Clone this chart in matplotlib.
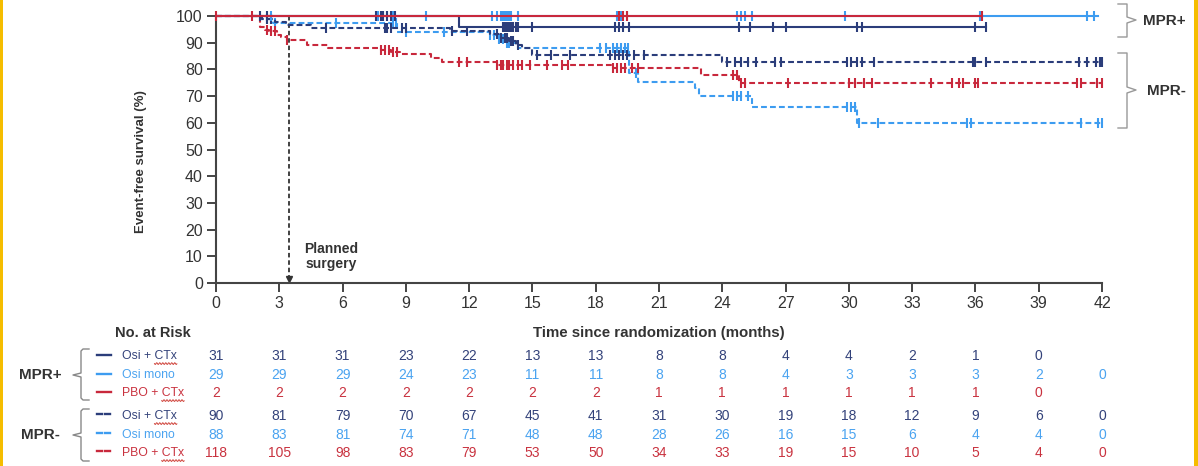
import numpy as np
import matplotlib
matplotlib.use("Agg")
import matplotlib.pyplot as plt
from matplotlib.patches import Rectangle

plt.rcParams['font.family'] = ['Liberation Sans', 'DejaVu Sans']

W, H = 1198, 466
NAVY = "#2b3d7a"
LBLUE = "#3d9cf0"
RED = "#c8283c"
TNAVY = "#33427a"
TLBLUE = "#4aa3f0"
TRED = "#c9323f"
GRAY = "#333333"

# ---------------- data ----------------
x_ticks = list(range(0, 43, 3))
y_ticks = list(range(0, 101, 10))

# MPR+ Osi + CTx (solid navy)
mp_osictx_t = [0, 11.5]
mp_osictx_s = [100, 95.8]
mp_osictx_end = 36.5
mp_osictx_c = [2.1, 2.4, 7.6, 7.8, 7.9, 8.1, 8.3, 8.5, 13.6, 13.7, 13.8, 13.9, 14.0, 14.1, 14.2, 14.3,
               15.0, 18.9, 19.1, 19.3, 19.6, 24.8, 25.3, 26.4, 27.0, 30.4, 30.6, 36.0, 36.5]

# MPR+ Osi mono (solid light blue)
mp_osimono_t = [0]
mp_osimono_s = [100]
mp_osimono_end = 41.8
mp_osimono_c = [2.6, 7.7, 7.9, 8.1, 8.4, 9.95, 13.1, 13.3, 13.5, 13.6, 13.7, 13.8, 13.9, 14.0, 14.3,
                19.0, 19.2, 19.5, 24.7, 24.9, 25.1, 25.4, 29.8, 36.2, 41.3, 41.6]

# MPR+ PBO + CTx (solid red)
mp_pbo_t = [0]
mp_pbo_s = [100]
mp_pbo_end = 36.3
mp_pbo_c = [0.0, 1.7, 19.1, 19.3, 19.5, 36.3]

# MPR- Osi + CTx (dashed navy)
mn_osictx_t = [0, 2.2, 2.8, 3.3, 4.5, 11.1, 13.0, 13.5, 13.9, 14.2, 14.5, 15.0, 24.0]
mn_osictx_s = [100, 98.9, 97.7, 96.6, 95.5, 94.3, 93.1, 91.8, 90.6, 89.3, 88.0, 85.4, 82.7]
mn_osictx_end = 42.0
mn_osictx_c = [2.4, 2.6, 5.2, 8.0, 8.1, 8.3, 8.8, 9.0, 11.2, 11.9, 13.3, 13.5, 13.7, 13.8, 14.0, 14.1,
               14.3, 15.2, 15.9, 16.8, 18.7, 18.9, 19.1, 19.3, 19.5, 19.8, 20.3, 24.2, 24.6, 24.9,
               25.2, 25.6, 26.5, 26.8, 29.9, 30.1, 30.4, 30.6, 31.2, 35.9, 36.0, 36.5, 40.9, 41.3,
               41.7, 41.9, 42.0]

# MPR- Osi mono (dashed light blue)
mn_osimono_t = [0, 2.1, 2.7, 8.6, 13.0, 13.4, 13.8, 14.3, 19.6, 20.0, 22.7, 22.9, 25.4, 30.4]
mn_osimono_s = [100, 98.8, 97.3, 94.1, 92.8, 91.4, 89.8, 88.2, 78.5, 75.4, 72.9, 70.0, 66.0, 59.9]
mn_osimono_end = 42.0
mn_osimono_c = [2.4, 2.6, 2.8, 5.7, 8.4, 8.55, 9.0, 10.8, 13.0, 13.2, 13.4, 13.6, 13.8, 13.9,
                18.2, 18.5, 18.8, 19.0, 19.2, 19.4, 19.55, 19.9, 24.5, 24.7, 24.9, 25.2, 29.9,
                30.1, 30.3, 30.5, 31.4, 35.6, 35.8, 41.0, 41.8, 42.0]

# MPR- PBO + CTx (dashed red)
mn_pbo_t = [0, 2.1, 2.3, 2.5, 2.9, 3.1, 3.35, 4.3, 5.3, 7.8, 8.3, 8.7, 10.2, 10.7, 13.3, 18.8, 23.0, 24.8]
mn_pbo_s = [100, 96.0, 94.8, 94.2, 92.9, 92.3, 91.0, 89.1, 88.1, 87.3, 86.6, 85.6, 84.1, 82.9, 81.6,
            80.4, 77.9, 74.8]
mn_pbo_end = 42.0
mn_pbo_c = [2.4, 2.6, 2.8, 3.35, 7.8, 8.0, 8.2, 8.4, 8.6, 11.5, 11.9, 13.3, 13.5, 13.6, 13.8, 13.9,
            14.1, 14.3, 14.5, 14.9, 15.7, 16.4, 16.7, 18.8, 19.0, 19.2, 19.4, 19.7, 20.0, 24.5,
            24.7, 24.9, 25.1, 27.1, 30.0, 30.3, 30.7, 31.1, 33.9, 34.9, 35.2, 35.4, 36.0, 36.1,
            40.8, 41.0, 41.75, 42.0]

# numbers at risk
risk_labels = ["Osi + CTx", "Osi mono", "PBO + CTx"]
risk_mprp_osictx = [31, 31, 31, 23, 22, 13, 13, 8, 8, 4, 4, 2, 1, 0]
risk_mprp_osimono = [29, 29, 29, 24, 23, 11, 11, 8, 8, 4, 3, 3, 3, 2, 0]
risk_mprp_pbo = [2, 2, 2, 2, 2, 2, 2, 1, 1, 1, 1, 1, 1, 0]
risk_mprn_osictx = [90, 81, 79, 70, 67, 45, 41, 31, 30, 19, 18, 12, 9, 6, 0]
risk_mprn_osimono = [88, 83, 81, 74, 71, 48, 48, 28, 26, 16, 15, 6, 4, 4, 0]
risk_mprn_pbo = [118, 105, 98, 83, 79, 53, 50, 34, 33, 19, 15, 10, 5, 4, 0]

surgery_month = 3.45

# ---------------- figure ----------------
fig = plt.figure(figsize=(W / 100, H / 100), dpi=100)
fig.patch.set_facecolor("white")


def fx(px):
    return px / W


def fy(py):
    return 1 - py / H


ax_l, ax_r, ax_t, ax_b = 216, 1102, 16, 283
ax = fig.add_axes([fx(ax_l), fy(ax_b), fx(ax_r - ax_l), (ax_b - ax_t) / H])
ax.set_xlim(0, 42)
ax.set_ylim(0, 100)

DASH = (0, (2.8, 1.5))


def km(t, s, end, cens, color, ls, lw=1.5, z=2):
    t = np.asarray(t, float)
    s = np.asarray(s, float)
    tt = np.append(t, end)
    ss = np.append(s, s[-1])
    ax.step(tt, ss, where="post", color=color, lw=lw, ls=ls, zorder=z, clip_on=False)
    c = np.asarray(cens, float)
    idx = np.searchsorted(t, c, side="right") - 1
    ax.plot(c, s[idx], ls="none", marker="|", ms=6.5, mew=1.5, color=color, zorder=z, clip_on=False)


km(mn_osimono_t, mn_osimono_s, mn_osimono_end, mn_osimono_c, LBLUE, DASH, z=2)
km(mn_pbo_t, mn_pbo_s, mn_pbo_end, mn_pbo_c, RED, DASH, z=3)
km(mn_osictx_t, mn_osictx_s, mn_osictx_end, mn_osictx_c, NAVY, DASH, z=4)
km(mp_osimono_t, mp_osimono_s, mp_osimono_end, mp_osimono_c, LBLUE, "-", z=5)
km(mp_osictx_t, mp_osictx_s, mp_osictx_end, mp_osictx_c, NAVY, "-", z=6)
km(mp_pbo_t, mp_pbo_s, mp_pbo_end, mp_pbo_c, RED, "-", z=7)

# planned surgery arrow
ax.plot([surgery_month, surgery_month], [100, 2.5], ls=(0, (2.5, 1.6)), color=GRAY, lw=1.3, zorder=1)
ax.plot([surgery_month], [1.6], marker="v", ms=5, color=GRAY, zorder=1, clip_on=False)
ax.text(surgery_month + 2.0, 10.0, "Planned\nsurgery", ha="center", va="center", fontsize=10,
        fontweight="bold", color=GRAY, linespacing=1.1, multialignment="center")

for side in ["top", "right"]:
    ax.spines[side].set_visible(False)
for side in ["left", "bottom"]:
    ax.spines[side].set_color("#444444")
    ax.spines[side].set_linewidth(1.5)
ax.set_xticks(x_ticks)
ax.set_yticks(y_ticks)
ax.tick_params(axis="both", length=6.5, width=1.4, color="#444444", labelsize=11.5, labelcolor=GRAY, pad=3)
fig.text(fx(141), fy(162), "Event-free survival (%)", ha="center", va="center", rotation=90,
         fontsize=9.5, fontweight="bold", color=GRAY)
fig.text(fx(659), fy(333), "Time since randomization (months)", ha="center", va="center",
         fontsize=10.8, fontweight="bold", color=GRAY)

# right braces


def brace_right(x0, y0, y1, ym, tip=9, arm=9):
    xs = [x0, x0 + arm, x0 + arm, x0 + arm + tip, x0 + arm, x0 + arm, x0]
    ys = [y0, y0, ym - 3, ym, ym + 3, y1, y1]
    fig.add_artist(plt.Line2D([fx(v) for v in xs], [fy(v) for v in ys], color="#999999", lw=1.0))


brace_right(1118, 4, 37, 20)
brace_right(1118, 53, 128, 90)
fig.text(fx(1164), fy(21), "MPR+", ha="center", va="center", fontsize=11, fontweight="bold", color=GRAY)
fig.text(fx(1166), fy(91), "MPR-", ha="center", va="center", fontsize=11, fontweight="bold", color=GRAY)

# risk table
fig.text(fx(153), fy(333), "No. at Risk", ha="center", va="center", fontsize=10.5, fontweight="bold", color=GRAY)


def colx(i):
    return ax_l + (ax_r - ax_l) * x_ticks[i] / 42


rows = [
    (356, risk_mprp_osictx, TNAVY, NAVY, "-"),
    (375, risk_mprp_osimono, TLBLUE, LBLUE, "-"),
    (393, risk_mprp_pbo, TRED, RED, "-"),
    (416, risk_mprn_osictx, TNAVY, NAVY, "--"),
    (435, risk_mprn_osimono, TLBLUE, LBLUE, "--"),
    (453, risk_mprn_pbo, TRED, RED, "--"),
]
fig.canvas.draw()
renderer = fig.canvas.get_renderer()
LABEL_X = 122
LABEL_FS = 8.8
for k, (py, vals, tcol, lcol, ls) in enumerate(rows):
    for i, v in enumerate(vals):
        fig.text(fx(colx(i)), fy(py), str(v), ha="center", va="center", fontsize=10, color=tcol)
    if ls == "-":
        fig.add_artist(plt.Line2D([fx(97), fx(111)], [fy(py - 1), fy(py - 1)], color=lcol, lw=1.7))
    else:
        for a, b in [(97, 102), (105, 110)]:
            fig.add_artist(plt.Line2D([fx(a), fx(b)], [fy(py - 2), fy(py - 2)], color=lcol, lw=1.7))
    label = risk_labels[k % 3]
    fig.text(fx(LABEL_X), fy(py), label, ha="left", va="center", fontsize=LABEL_FS, color=tcol)
    # spell-check squiggle under "CTx"
    if "CTx" in label:
        prefix = label[:label.index("CTx")]
        tp = fig.text(0, 0, prefix.replace(" ", "\u00a0"), fontsize=LABEL_FS)
        wp = tp.get_window_extent(renderer).width
        tp.remove()
        tc = fig.text(0, 0, "CTx", fontsize=LABEL_FS)
        wc = tc.get_window_extent(renderer).width
        tc.remove()
        x_start = LABEL_X + wp
        xx = np.linspace(x_start, x_start + wc, 40)
        yy = py + 7.6 + 0.9 * np.sin((xx - x_start) * 2 * np.pi / 3.0)
        fig.add_artist(plt.Line2D(fx(xx), fy(yy), color="#d0443c", lw=0.7))


def brace_left(x0, y0, y1, ym):
    xs = [x0 + 8, x0 + 2, x0, x0, x0 - 8, x0, x0, x0 + 2, x0 + 8]
    ys = [y0, y0, y0 + 2, ym - 2, ym, ym + 2, y1 - 2, y1, y1]
    fig.add_artist(plt.Line2D([fx(v) for v in xs], [fy(v) for v in ys], color="#888888", lw=1.0))


brace_left(81, 349, 400, 375)
brace_left(81, 409, 461, 435)
fig.text(fx(40), fy(375), "MPR+", ha="center", va="center", fontsize=11, fontweight="bold", color=GRAY)
fig.text(fx(40), fy(435), "MPR-", ha="center", va="center", fontsize=11, fontweight="bold", color=GRAY)

# yellow side frame
fig.add_artist(Rectangle((0, 0), fx(3), 1, transform=fig.transFigure, color="#f5bd00", lw=0))
fig.add_artist(Rectangle((fx(1194), 0), fx(4), 1, transform=fig.transFigure, color="#f5bd00", lw=0))

fig.savefig("out.png", dpi=100, facecolor="white")
